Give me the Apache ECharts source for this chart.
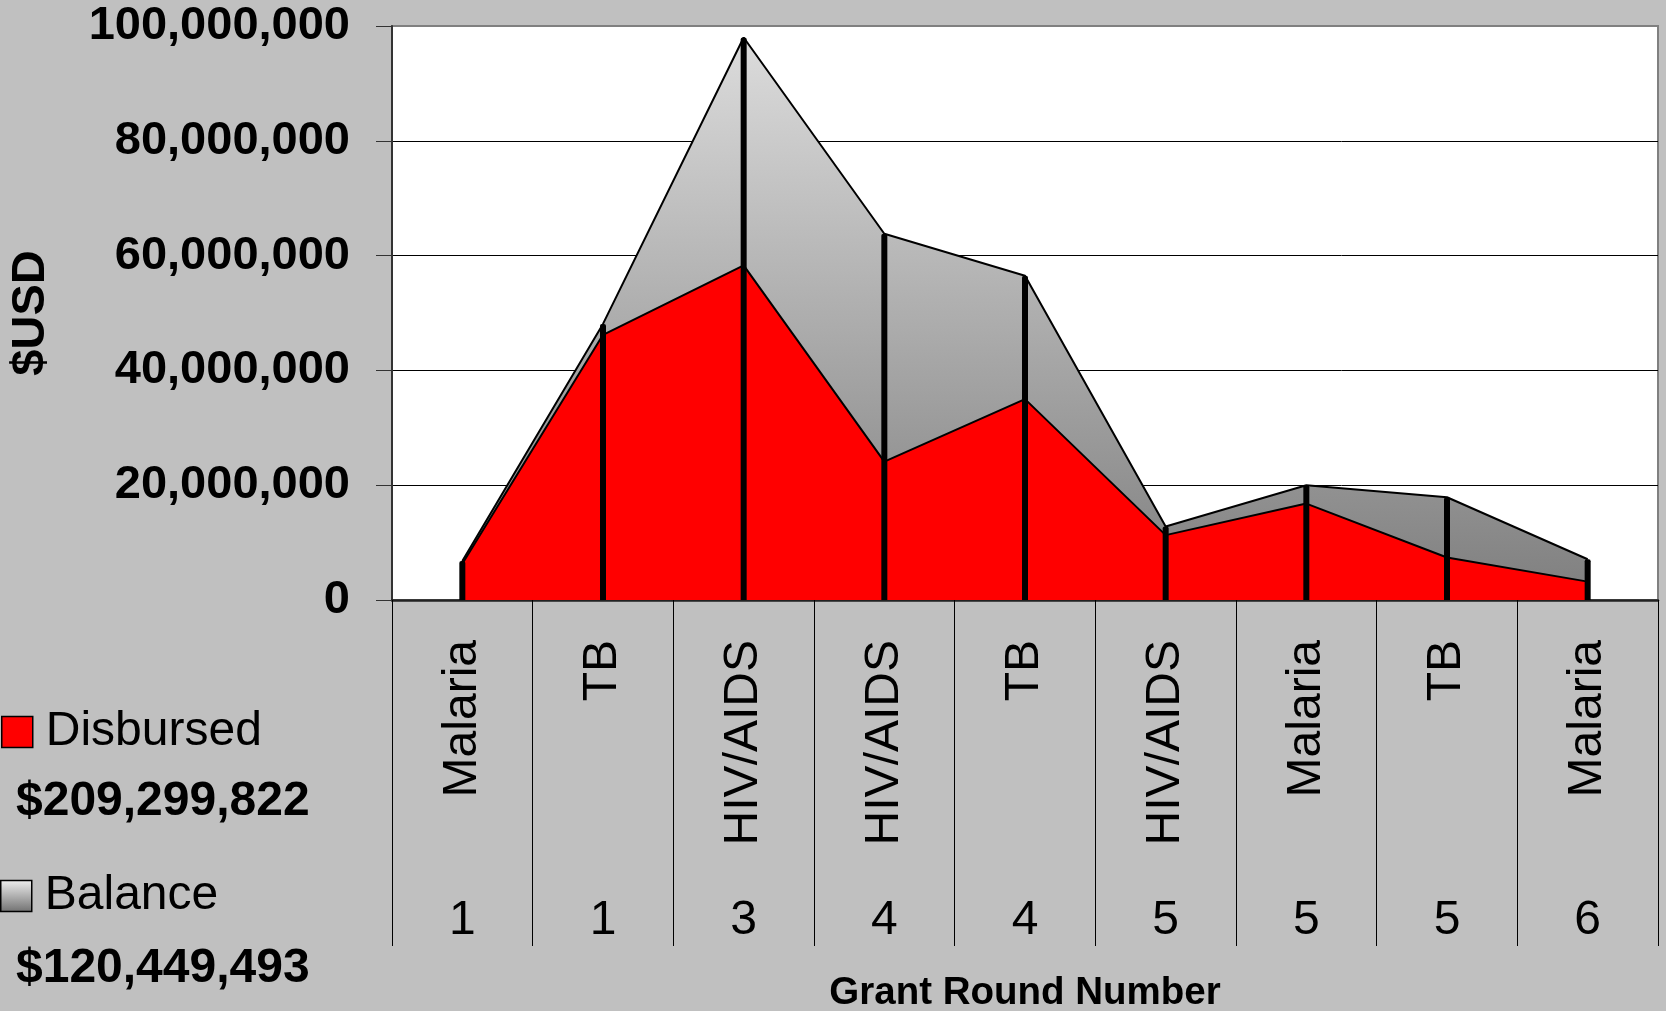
<!DOCTYPE html>
<html>
<head>
<meta charset="utf-8">
<script src="https://cdn.jsdelivr.net/npm/echarts@6/dist/echarts.min.js"></script>
<style>
html,body{margin:0;padding:0;background:#c0c0c0;}
#chart{width:1666px;height:1011px;}
</style>
</head>
<body>
<div id="chart"></div>
<script>
// ---- data ----
const diseases = ['Malaria', 'TB', 'HIV/AIDS', 'HIV/AIDS', 'TB', 'HIV/AIDS', 'Malaria', 'TB', 'Malaria'];
const grantRounds = ['1', '1', '3', '4', '4', '5', '5', '5', '6'];
const disbursed = [6300000, 46200000, 58300000, 24100000, 35000000, 11300000, 16800000, 7400000, 3200000];
const balance = [500000, 1900000, 39700000, 39700000, 21500000, 1500000, 3200000, 10500000, 3900000];
const legendTotals = ['$209,299,822', '$120,449,493'];
const yTicks = [0, 20000000, 40000000, 60000000, 80000000, 100000000];

const totals = disbursed.map((d, i) => d + balance[i]);
const FONT = '"Liberation Sans", Arial, sans-serif';

const grayGrad = {
  type: 'linear', x: 0, y: 37, x2: 0, y2: 590, global: true,
  colorStops: [{offset: 0, color: '#dcdcdc'}, {offset: 1, color: '#808080'}]
};
const grayGradIcon = {
  type: 'linear', x: 0, y: 0, x2: 0, y2: 1,
  colorStops: [{offset: 0, color: '#f0f0f0'}, {offset: 1, color: '#707070'}]
};

const chart = echarts.init(document.getElementById('chart'), null, {renderer: 'canvas'});
chart.setOption({
  backgroundColor: '#c0c0c0',
  animation: false,
  textStyle: {fontFamily: FONT},
  grid: {
    left: 392, right: 8, top: 26, bottom: 411,
    outerBoundsMode: 'none', containLabel: false,
    show: true, backgroundColor: '#ffffff', borderColor: '#808080', borderWidth: 2
  },
  legend: [
    {
      data: ['Disbursed'], orient: 'vertical', left: 1, top: 708, padding: 0,
      icon: 'rect', itemWidth: 31, itemHeight: 31,
      itemStyle: {color: '#ff0000', borderColor: '#000', borderWidth: 1.5},
      textStyle: {fontFamily: FONT, fontSize: 48, color: '#000', padding: [0, 0, 0, 8]}
    },
    {
      data: ['Balance'], orient: 'vertical', left: 0, top: 872, padding: 0,
      icon: 'rect', itemWidth: 31, itemHeight: 31,
      itemStyle: {color: grayGradIcon, borderColor: '#000', borderWidth: 1.5},
      textStyle: {fontFamily: FONT, fontSize: 48, color: '#000', padding: [0, 0, 0, 8]}
    }
  ],
  graphic: [
    {type: 'text', left: 16, top: 778, style: {text: legendTotals[0], font: 'bold 48px ' + FONT, fill: '#000'}},
    {type: 'text', left: 16, top: 945, style: {text: legendTotals[1], font: 'bold 48px ' + FONT, fill: '#000'}}
  ],
  xAxis: [
    {
      type: 'category', data: diseases, boundaryGap: true, position: 'bottom',
      name: 'Grant Round Number', nameLocation: 'middle', nameGap: 374, nameMoveOverlap: false,
      nameTextStyle: {fontFamily: FONT, fontSize: 38.5, fontWeight: 'bold', color: '#000'},
      axisLine: {show: true, lineStyle: {color: '#222', width: 2.5}},
      axisTick: {show: true, interval: 0, length: 346, lineStyle: {color: '#000', width: 1}},
      axisLabel: {interval: 0, rotate: 90, margin: 40, fontFamily: FONT, fontSize: 48, color: '#000'},
      splitLine: {show: false}
    },
    {
      type: 'category', data: grantRounds, boundaryGap: true, position: 'bottom',
      axisLine: {show: false}, axisTick: {show: false}, splitLine: {show: false},
      axisLabel: {interval: 0, margin: 297, fontFamily: FONT, fontSize: 48, color: '#000'}
    }
  ],
  yAxis: {
    type: 'value', min: yTicks[0], max: yTicks[yTicks.length - 1], interval: yTicks[1] - yTicks[0],
    name: '$USD', nameLocation: 'middle', nameGap: 337, nameMoveOverlap: false,
    nameTextStyle: {fontFamily: FONT, fontSize: 47, fontWeight: 'bold', color: '#000'},
    axisLine: {show: true, lineStyle: {color: '#333', width: 2}},
    axisTick: {show: true, length: 16, lineStyle: {color: '#333', width: 1}},
    axisLabel: {
      margin: 42, fontFamily: FONT, fontSize: 47, fontWeight: 'bold', color: '#000',
      formatter: v => v.toLocaleString('en-US')
    },
    splitLine: {show: true, showMinLine: false, showMaxLine: false, lineStyle: {color: '#000', width: 1}}
  },
  series: [
    {
      name: 'Disbursed', type: 'line', stack: 'grant', data: disbursed,
      showSymbol: false, symbol: 'none', z: 2,
      itemStyle: {color: '#ff0000'},
      lineStyle: {color: '#000', width: 2},
      areaStyle: {color: '#ff0000', opacity: 1}
    },
    {
      name: 'Balance', type: 'line', stack: 'grant', data: balance,
      showSymbol: false, symbol: 'none', z: 2,
      itemStyle: {color: '#a0a0a0'},
      lineStyle: {color: '#000', width: 2},
      areaStyle: {color: grayGrad, opacity: 1}
    },
    {
      name: 'Total', type: 'bar', data: totals, barWidth: 6, z: 5,
      itemStyle: {color: '#000', borderRadius: [2, 2, 0, 0]},
      silent: true
    }
  ]
});
</script>
</body>
</html>
